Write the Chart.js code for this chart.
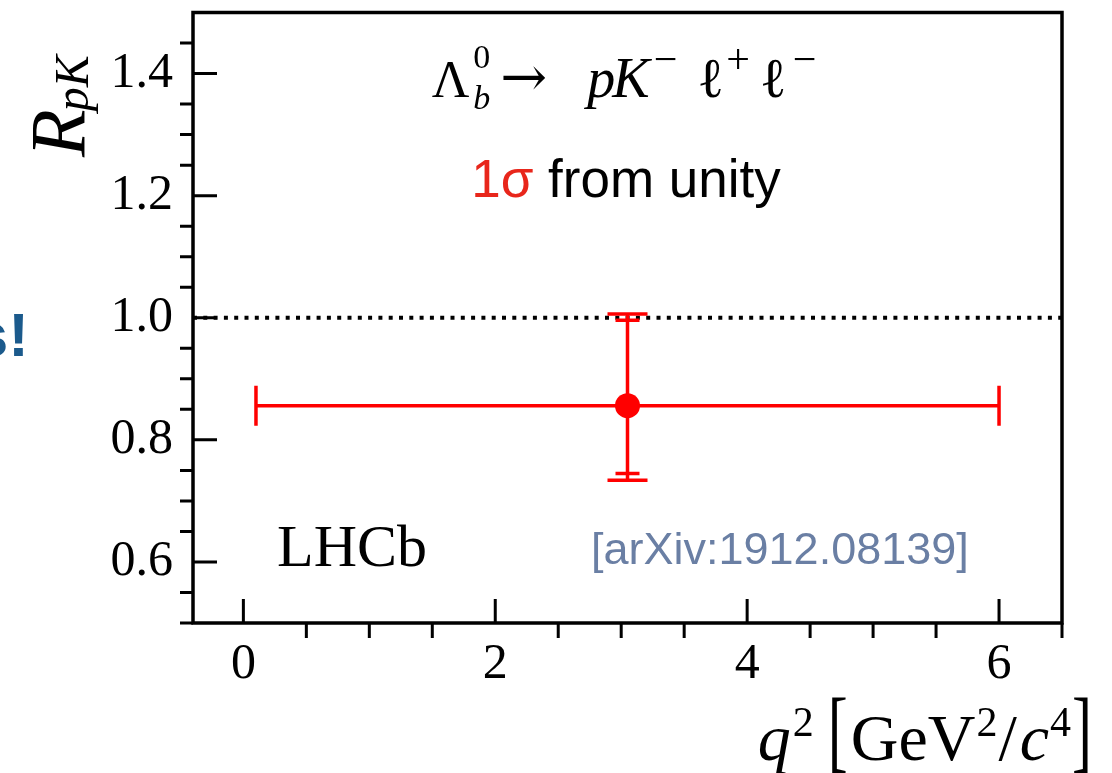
<!DOCTYPE html>
<html lang="en">
<head>
<meta charset="UTF-8">
<title>R_pK</title>
<script src="https://cdn.jsdelivr.net/npm/chart.js"></script>
<style>
  html, body { margin: 0; padding: 0; background: #fff; }
  canvas { display: block; }
</style>
</head>
<body>
<canvas id="chart" width="1112" height="773"></canvas>
<script>
  // measurement: R_pK in 0.1 < q2 < 6 GeV2/c4
  var q2Centre = [3.05];
  var q2Low = [0.1];
  var q2High = [6.0];
  var rpk = [0.856];
  var rpkStatLow = [0.745];
  var rpkStatHigh = [0.996];
  var rpkTotLow = [0.734];
  var rpkTotHigh = [1.006];

  // unity reference line
  var unityX = [-0.4, 6.5];
  var unityY = [1.0, 1.0];

  var xMajor = [0, 2, 4, 6];
  var xMinor = [0.5, 1, 1.5, 2.5, 3, 3.5, 4.5, 5, 5.5, 6.5];
  var yMajor = [0.6, 0.8, 1.0, 1.2, 1.4];
  var yMinor = [0.5, 0.55, 0.65, 0.7, 0.75, 0.85, 0.9, 0.95, 1.05, 1.1, 1.15, 1.25, 1.3, 1.35, 1.45];

  var RED = '#ff0000';
  var SERIF = '"Liberation Serif", "DejaVu Serif", serif';
  var SANS = '"Liberation Sans", Arial, sans-serif';

  // draws a row of text pieces with different fonts / offsets
  function drawRich(ctx, x, y, parts, align) {
    var total = 0;
    parts.forEach(function (p) {
      ctx.font = p.f;
      p.w = ctx.measureText(p.t).width;
      total += (p.gap || 0) + (p.stay ? 0 : p.w);
    });
    var cx = x;
    if (align === 'center') cx = x - total / 2;
    if (align === 'right') cx = x - total;
    ctx.textAlign = 'left';
    ctx.textBaseline = 'alphabetic';
    parts.forEach(function (p) {
      cx += p.gap || 0;
      ctx.font = p.f;
      ctx.fillStyle = p.c || '#000';
      ctx.save();
      ctx.translate(cx, y + (p.dy || 0));
      ctx.scale(1, p.sy || 1);
      ctx.fillText(p.t, 0, 0);
      ctx.restore();
      if (!p.stay) cx += p.w;
    });
  }

  var decorations = {
    id: 'decorations',
    afterDatasetDraw: function (chart, args) {
      if (args.index !== 0) return;
      // error bars go on top of the dotted line, under the marker
      var ctx = chart.ctx, xs = chart.scales.x, ys = chart.scales.y;
      ctx.save();
      ctx.strokeStyle = RED;
      ctx.lineWidth = 3.5;
      for (var i = 0; i < rpk.length; i++) {
        var px = xs.getPixelForValue(q2Centre[i]);
        var py = ys.getPixelForValue(rpk[i]);
        var xl = xs.getPixelForValue(q2Low[i]), xh = xs.getPixelForValue(q2High[i]);
        var yt = ys.getPixelForValue(rpkTotHigh[i]), yb = ys.getPixelForValue(rpkTotLow[i]);
        var st = ys.getPixelForValue(rpkStatHigh[i]), sb = ys.getPixelForValue(rpkStatLow[i]);
        ctx.beginPath();
        ctx.moveTo(xl, py); ctx.lineTo(xh, py);
        ctx.moveTo(xl, py - 20); ctx.lineTo(xl, py + 20);
        ctx.moveTo(xh, py - 20); ctx.lineTo(xh, py + 20);
        ctx.moveTo(px, yt); ctx.lineTo(px, yb);
        ctx.moveTo(px - 20, yt); ctx.lineTo(px + 20, yt);
        ctx.moveTo(px - 20, yb); ctx.lineTo(px + 20, yb);
        ctx.moveTo(px - 12, st); ctx.lineTo(px + 12, st);
        ctx.moveTo(px - 12, sb); ctx.lineTo(px + 12, sb);
        ctx.stroke();
      }
      ctx.restore();
    },
    afterDraw: function (chart) {
      var ctx = chart.ctx, a = chart.chartArea;
      var xs = chart.scales.x, ys = chart.scales.y;
      ctx.save();
      ctx.strokeStyle = '#000';
      ctx.lineWidth = 3;
      ctx.beginPath();
      xMajor.forEach(function (v) {
        var p = xs.getPixelForValue(v);
        ctx.moveTo(p, a.bottom); ctx.lineTo(p, a.bottom - 24);
      });
      xMinor.forEach(function (v) {
        var p = xs.getPixelForValue(v);
        ctx.moveTo(p, a.bottom); ctx.lineTo(p, a.bottom + 15);
      });
      yMajor.forEach(function (v) {
        var p = ys.getPixelForValue(v);
        ctx.moveTo(a.left, p); ctx.lineTo(a.left + 24, p);
      });
      yMinor.forEach(function (v) {
        var p = ys.getPixelForValue(v);
        ctx.moveTo(a.left, p); ctx.lineTo(a.left - 13, p);
      });
      ctx.stroke();
      ctx.lineWidth = 3.5;
      ctx.strokeRect(a.left, a.top, a.right - a.left, a.bottom - a.top);

      // process label
      drawRich(ctx, 624, 97, [
        { t: 'Λ', f: '52px ' + SERIF },
        { t: '0', f: '34px ' + SERIF, dy: -29, gap: 4, stay: true },
        { t: 'b', f: 'italic 34px ' + SERIF, dy: 12 },
        { t: '→', f: '56px "DejaVu Serif", serif', gap: 10, dy: -1 },
        { t: 'p', f: 'italic 56px ' + SERIF, gap: 40 },
        { t: 'K', f: 'italic 56px ' + SERIF, gap: -3 },
        { t: '−', f: '42px ' + SERIF, dy: -24, gap: 4 },
        { t: 'ℓ', f: '56px ' + SERIF, gap: 20 },
        { t: '+', f: '42px ' + SERIF, dy: -24, gap: 2 },
        { t: 'ℓ', f: '56px ' + SERIF, gap: 10 },
        { t: '−', f: '42px ' + SERIF, dy: -24, gap: 6 }
      ], 'center');

      drawRich(ctx, 626, 197, [
        { t: '1σ', f: '53px ' + SANS, c: '#e8261b' },
        { t: ' from unity', f: '53px ' + SANS, c: '#000' }
      ], 'center');

      ctx.font = '60px ' + SERIF;
      ctx.fillStyle = '#000';
      ctx.textAlign = 'left';
      ctx.textBaseline = 'alphabetic';
      ctx.fillText('LHCb', 277, 566);

      ctx.font = '45px ' + SANS;
      ctx.fillStyle = '#6a7fa4';
      ctx.fillText('[arXiv:1912.08139]', 591, 564);

      // cut-off text from the slide on the left
      ctx.font = 'bold 62px ' + SANS;
      ctx.fillStyle = '#1b5a8c';
      ctx.textAlign = 'right';
      ctx.fillText('s!', 29, 356);

      // y title, rotated
      ctx.save();
      ctx.translate(84, 157);
      ctx.rotate(-Math.PI / 2);
      drawRich(ctx, 0, 0, [
        { t: 'R', f: 'italic 78px ' + SERIF },
        { t: 'pK', f: 'italic 48px ' + SERIF, dy: 4, gap: -2 }
      ], 'left');
      ctx.restore();

      // x title
      drawRich(ctx, 1092, 760, [
        { t: 'q', f: 'italic 66px ' + SERIF },
        { t: '2', f: '42px ' + SERIF, dy: -24, gap: 2 },
        { t: '[', f: '60px ' + SERIF, dy: 1, sy: 1.5, gap: 14 },
        { t: 'GeV', f: '66px ' + SERIF, gap: 3 },
        { t: '2', f: '42px ' + SERIF, dy: -24, gap: 1 },
        { t: '/', f: '66px ' + SERIF, gap: 1 },
        { t: 'c', f: 'italic 66px ' + SERIF, gap: 3 },
        { t: '4', f: '42px ' + SERIF, dy: -24, gap: 1 },
        { t: ']', f: '60px ' + SERIF, dy: 1, sy: 1.5, gap: 1 }
      ], 'right');
      ctx.restore();
    }
  };

  function noPad(s) {
    s.paddingTop = 0; s.paddingBottom = 0;
    s.paddingLeft = 0; s.paddingRight = 0;
  }

  new Chart(document.getElementById('chart'), {
    type: 'scatter',
    data: {
      datasets: [
        {
          type: 'line',
          data: unityX.map(function (x, i) { return { x: x, y: unityY[i] }; }),
          borderColor: '#000',
          borderWidth: 4,
          borderDash: [4, 6.3],
          pointRadius: 0,
          fill: false,
          order: 2
        },
        {
          data: q2Centre.map(function (x, i) { return { x: x, y: rpk[i] }; }),
          backgroundColor: RED,
          borderColor: RED,
          pointRadius: 12.5,
          pointBorderWidth: 0,
          order: 1
        }
      ]
    },
    options: {
      responsive: false,
      animation: false,
      layout: { padding: { top: 12, right: 50, left: 0, bottom: 0 } },
      plugins: { legend: { display: false }, tooltip: { enabled: false } },
      scales: {
        x: {
          type: 'linear',
          min: -0.4,
          max: 6.5,
          afterBuildTicks: function (s) { s.ticks = xMajor.map(function (v) { return { value: v }; }); },
          afterFit: function (s) { s.height = 150; noPad(s); },
          grid: { display: false, drawTicks: false },
          border: { display: false },
          ticks: {
            color: '#000',
            font: { family: SERIF, size: 50 },
            padding: 12,
            maxRotation: 0,
            callback: function (v) { return String(v); }
          }
        },
        y: {
          type: 'linear',
          min: 0.5,
          max: 1.5,
          afterBuildTicks: function (s) { s.ticks = yMajor.map(function (v) { return { value: v }; }); },
          afterFit: function (s) { s.width = 193; noPad(s); },
          grid: { display: false, drawTicks: false },
          border: { display: false },
          ticks: {
            color: '#000',
            font: { family: SERIF, size: 50 },
            padding: 20,
            callback: function (v) { return v.toFixed(1); }
          }
        }
      }
    },
    plugins: [decorations]
  });
</script>
</body>
</html>
